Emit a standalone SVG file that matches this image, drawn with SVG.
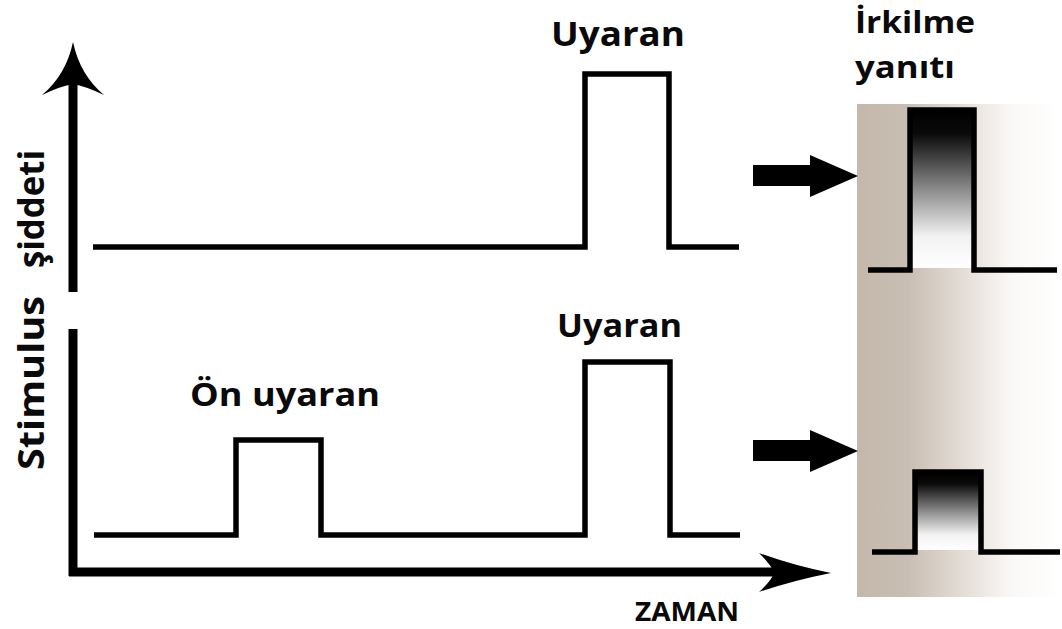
<svg xmlns="http://www.w3.org/2000/svg" width="1062" height="629" viewBox="0 0 1062 629">
  <defs>
    <linearGradient id="panelGrad" x1="0" y1="0" x2="1" y2="0">
      <stop offset="0" stop-color="#c4b8ac"/>
      <stop offset="0.25" stop-color="#c9beb3"/>
      <stop offset="0.5" stop-color="#e2dbd4"/>
      <stop offset="0.75" stop-color="#faf8f6"/>
      <stop offset="1" stop-color="#ffffff"/>
    </linearGradient>
    <linearGradient id="respGrad" x1="0" y1="0" x2="0" y2="1">
      <stop offset="0" stop-color="#000000"/>
      <stop offset="0.15" stop-color="#0a0a0a"/>
      <stop offset="0.5" stop-color="#8a8a8a"/>
      <stop offset="0.8" stop-color="#f2f2f2"/>
      <stop offset="1" stop-color="#ffffff"/>
    </linearGradient>
    <style>
      .lbl { font-family: "Open Sans", "Liberation Sans", sans-serif; font-weight: bold; fill: #0a0a0a; }
      .sig { fill: none; stroke: #000; stroke-width: 5.5; stroke-linejoin: miter; stroke-linecap: butt; }
      .axis { fill: none; stroke: #000; stroke-width: 9; }
      .head { fill: #000; stroke: none; }
    </style>
  </defs>
  <rect width="1062" height="629" fill="#ffffff"/>

  <g id="response-panel">
    <rect x="857" y="104" width="205" height="493" fill="url(#panelGrad)"/>
  </g>

  <g id="axes">
    <line class="axis" x1="73" y1="80" x2="73" y2="292"/>
    <path class="head" d="M73,42 Q80,75 104,95 Q85,86 73,84 Q61,86 42,95 Q66,75 73,42 Z"/>
    <line class="axis" x1="73" y1="329" x2="73" y2="576"/>
    <line class="axis" x1="69" y1="572" x2="780" y2="572"/>
    <path class="head" d="M831,573 Q795,566 759,553 Q772,566 774,573 Q772,580 759,592 Q795,580 831,573 Z"/>
  </g>

  <g id="y-label">
    <text class="lbl" font-size="36" transform="translate(44,470) rotate(-90)"><tspan x="0" y="0" textLength="174" lengthAdjust="spacingAndGlyphs">Stimulus</tspan><tspan x="202" y="0" textLength="118" lengthAdjust="spacingAndGlyphs">şiddeti</tspan></text>
  </g>

  <g id="x-label">
    <text class="lbl" x="635" y="621" font-size="26" textLength="104" lengthAdjust="spacingAndGlyphs">ZAMAN</text>
  </g>

  <g id="top-stimulus">
    <polyline class="sig" points="93,247 585,247 585,74 669,74 669,247 739,247"/>
    <text class="lbl" x="551" y="46" font-size="34" textLength="134" lengthAdjust="spacingAndGlyphs">Uyaran</text>
  </g>

  <g id="bottom-stimulus">
    <polyline class="sig" points="94,535 236,535 236,440 321,440 321,535 585,535 585,362 670,362 670,535 740,535"/>
    <text class="lbl" x="190" y="406" font-size="32" textLength="190" lengthAdjust="spacingAndGlyphs">Ön uyaran</text>
    <text class="lbl" x="557" y="337" font-size="32" textLength="125" lengthAdjust="spacingAndGlyphs">Uyaran</text>
  </g>

  <g id="top-response">
    <rect x="910" y="110" width="63" height="158" fill="url(#respGrad)"/>
    <polyline class="sig" points="868,270 910,270 910,110 974,110 974,270 1057,270"/>
  </g>

  <g id="bottom-response">
    <rect x="915" y="472" width="65" height="78" fill="url(#respGrad)"/>
    <polyline class="sig" points="872,552 915,552 915,472 981,472 981,552 1060,552"/>
  </g>

  <g id="response-label">
    <text class="lbl" x="855" y="33" font-size="30" textLength="120" lengthAdjust="spacingAndGlyphs">İrkilme</text>
    <text class="lbl" x="855" y="78" font-size="30" textLength="100" lengthAdjust="spacingAndGlyphs">yanıtı</text>
  </g>

  <g id="connectors">
    <path class="head" d="M753,165 L810,165 L810,155 L858,176 L810,197 L810,186 L753,186 Z"/>
    <path class="head" d="M753,440 L810,440 L810,430 L858,451 L810,472 L810,461 L753,461 Z"/>
  </g>
</svg>
